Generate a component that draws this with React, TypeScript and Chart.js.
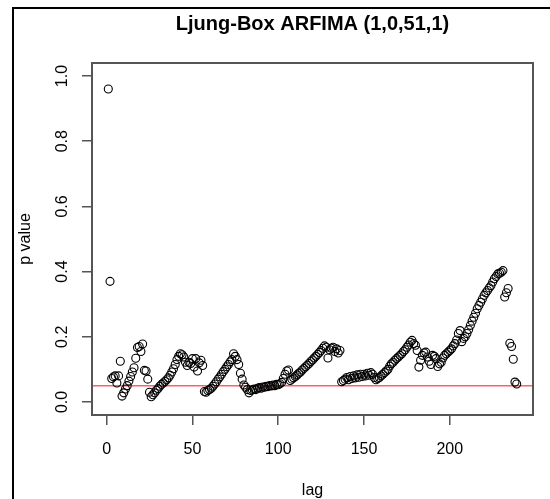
import React, { useEffect, useRef } from 'react';
import { Chart, registerables } from 'chart.js';

Chart.register(...registerables);

const TITLE = 'Ljung-Box ARFIMA (1,0,51,1)';
const X_LABEL = 'lag';
const Y_LABEL = 'p value';
const X_TICKS = [0, 50, 100, 150, 200];
const Y_TICKS = [0, 0.2, 0.4, 0.6, 0.8, 1.0];
const X_MIN = -8.5;
const X_MAX = 248.5;
const Y_MIN = -0.04;
const Y_MAX = 1.04;
const THRESHOLD = 0.05;

const P_VALUES = [
  0.96, 0.37, 0.072, 0.077, 0.08, 0.058, 0.08, 0.125, 0.018, 0.028,
  0.04, 0.05, 0.064, 0.078, 0.092, 0.105, 0.134, 0.167, 0.17, 0.155,
  0.178, 0.097, 0.095, 0.07, 0.03, 0.016, 0.022, 0.028, 0.036, 0.041,
  0.048, 0.054, 0.058, 0.063, 0.068, 0.074, 0.082, 0.092, 0.102, 0.115,
  0.13, 0.14, 0.148, 0.145, 0.138, 0.122, 0.112, 0.122, 0.118, 0.133,
  0.107, 0.133, 0.095, 0.12, 0.128, 0.112, 0.032, 0.03, 0.035, 0.038,
  0.042, 0.048, 0.055, 0.062, 0.07, 0.077, 0.085, 0.093, 0.1, 0.108,
  0.115, 0.123, 0.13, 0.148, 0.14, 0.13, 0.115, 0.088, 0.07, 0.052,
  0.045, 0.038, 0.028, 0.035, 0.037, 0.04, 0.038, 0.042, 0.044, 0.042,
  0.046, 0.045, 0.048, 0.047, 0.05, 0.049, 0.052, 0.05, 0.054, 0.053,
  0.056, 0.06, 0.072, 0.085, 0.095, 0.098, 0.066, 0.07, 0.074, 0.078,
  0.083, 0.088, 0.092, 0.098, 0.103, 0.108, 0.113, 0.118, 0.124, 0.129,
  0.135, 0.14, 0.146, 0.152, 0.158, 0.165, 0.172, 0.168, 0.135, 0.16,
  0.165, 0.168, 0.155, 0.163, 0.15, 0.158, 0.062, 0.066, 0.07, 0.075,
  0.068, 0.078, 0.072, 0.08, 0.074, 0.083, 0.076, 0.085, 0.078, 0.085,
  0.08, 0.088, 0.082, 0.09, 0.085, 0.075, 0.068, 0.072, 0.075, 0.08,
  0.085, 0.09, 0.095, 0.1, 0.11, 0.117, 0.122, 0.128, 0.133, 0.138,
  0.143, 0.148, 0.155, 0.16, 0.168, 0.175, 0.183, 0.189, 0.179, 0.174,
  0.158, 0.107, 0.128, 0.143, 0.15, 0.153, 0.138, 0.125, 0.115, 0.143,
  0.14, 0.133, 0.109, 0.117, 0.122, 0.135, 0.143, 0.148, 0.153, 0.158,
  0.163, 0.172, 0.179, 0.19, 0.21, 0.219, 0.185, 0.195, 0.2, 0.21,
  0.222, 0.235, 0.248, 0.26, 0.272, 0.286, 0.296, 0.306, 0.316, 0.327,
  0.335, 0.342, 0.35, 0.357, 0.368, 0.378, 0.385, 0.393, 0.395, 0.398,
  0.403, 0.322, 0.335, 0.348, 0.18, 0.17, 0.131, 0.061, 0.055,
];
const LAGS = P_VALUES.map((_, i) => i + 1);

const FONT = '"Liberation Sans", Arial, Helvetica, sans-serif';
const BOX_COLOR = '#555555';

const boxPlugin = {
  id: 'plotBox',
  afterDraw(chart: any) {
    const { ctx, chartArea } = chart;
    const l = Math.round(chartArea.left);
    const r = Math.round(chartArea.right);
    const t = Math.round(chartArea.top);
    const b = Math.round(chartArea.bottom);
    ctx.save();
    ctx.fillStyle = BOX_COLOR;
    ctx.fillRect(l - 1, t - 1, r - l + 2, 2);
    ctx.fillRect(l - 1, b - 1, r - l + 2, 2);
    ctx.fillRect(l - 1, t - 1, 2, b - t + 2);
    ctx.fillRect(r - 1, t - 1, 2, b - t + 2);
    ctx.restore();
  },
};

const textPlugin = {
  id: 'decorText',
  afterDraw(chart: any) {
    const { ctx, chartArea } = chart;
    const { left, right, top, bottom } = chartArea;
    ctx.save();
    ctx.fillStyle = '#000';
    ctx.fillRect(12, 7, 2, chart.height - 7);
    ctx.fillRect(12, 7, chart.width - 12, 2);
    ctx.textAlign = 'center';
    ctx.textBaseline = 'alphabetic';
    ctx.font = `bold 20px ${FONT}`;
    ctx.fillText(TITLE, (left + right) / 2, 30);
    ctx.font = `16px ${FONT}`;
    ctx.fillText(X_LABEL, (left + right) / 2, 495);
    ctx.translate(30, (top + bottom) / 2);
    ctx.rotate(-Math.PI / 2);
    ctx.fillText(Y_LABEL, 0, 0);
    ctx.restore();
  },
};

export default function App() {
  const ref = useRef<HTMLCanvasElement | null>(null);

  useEffect(() => {
    if (!ref.current) return;
    const chart = new Chart(ref.current, {
      type: 'scatter',
      data: {
        datasets: [
          {
            label: 'p value',
            data: LAGS.map((x, i) => ({ x, y: P_VALUES[i] })),
            pointRadius: 4,
            pointBorderWidth: 1.1,
            pointBorderColor: '#000',
            pointBackgroundColor: 'rgba(0,0,0,0)',
            showLine: false,
          },
          {
            type: 'line',
            label: 'threshold',
            data: [
              { x: X_MIN, y: THRESHOLD },
              { x: X_MAX, y: THRESHOLD },
            ],
            borderColor: '#ff6060',
            borderWidth: 1.5,
            pointRadius: 0,
            fill: false,
          } as any,
        ],
      },
      options: {
        responsive: false,
        maintainAspectRatio: false,
        animation: false,
        devicePixelRatio: 1,
        layout: { padding: { top: 63, right: 17, bottom: 0, left: 0 } },
        plugins: {
          legend: { display: false },
          tooltip: { enabled: false },
          title: { display: false },
        },
        scales: {
          x: {
            type: 'linear',
            min: X_MIN,
            max: X_MAX,
            afterBuildTicks: (scale: any) => {
              scale.ticks = X_TICKS.map((v) => ({ value: v }));
            },
            afterFit: (scale: any) => {
              scale.height = 84;
            },
            grid: {
              display: true,
              drawOnChartArea: false,
              drawTicks: true,
              tickLength: 10,
              lineWidth: 1.5,
              color: BOX_COLOR,
            },
            border: { display: false },
            ticks: {
              padding: 15,
              color: '#000',
              font: { size: 16, family: FONT },
              maxRotation: 0,
              minRotation: 0,
              callback: (v: any) => String(v),
            },
          },
          y: {
            type: 'linear',
            min: Y_MIN,
            max: Y_MAX,
            afterBuildTicks: (scale: any) => {
              scale.ticks = Y_TICKS.map((v) => ({ value: v }));
            },
            afterFit: (scale: any) => {
              scale.width = 92;
            },
            grid: {
              display: true,
              drawOnChartArea: false,
              drawTicks: true,
              tickLength: 10,
              lineWidth: 1.5,
              color: BOX_COLOR,
            },
            border: { display: false },
            ticks: {
              padding: 8,
              color: '#000',
              crossAlign: 'center',
              minRotation: 90,
              maxRotation: 90,
              font: { size: 16, family: FONT },
              callback: (v: any) => Number(v).toFixed(1),
            },
          },
        },
      },
      plugins: [boxPlugin, textPlugin],
    });
    return () => chart.destroy();
  }, []);

  return (
    <div style={{ position: 'fixed', left: 0, top: 0, width: 550, height: 499, background: '#fff' }}>
      <canvas ref={ref} width={550} height={499} style={{ display: 'block', width: 550, height: 499 }} />
    </div>
  );
}
